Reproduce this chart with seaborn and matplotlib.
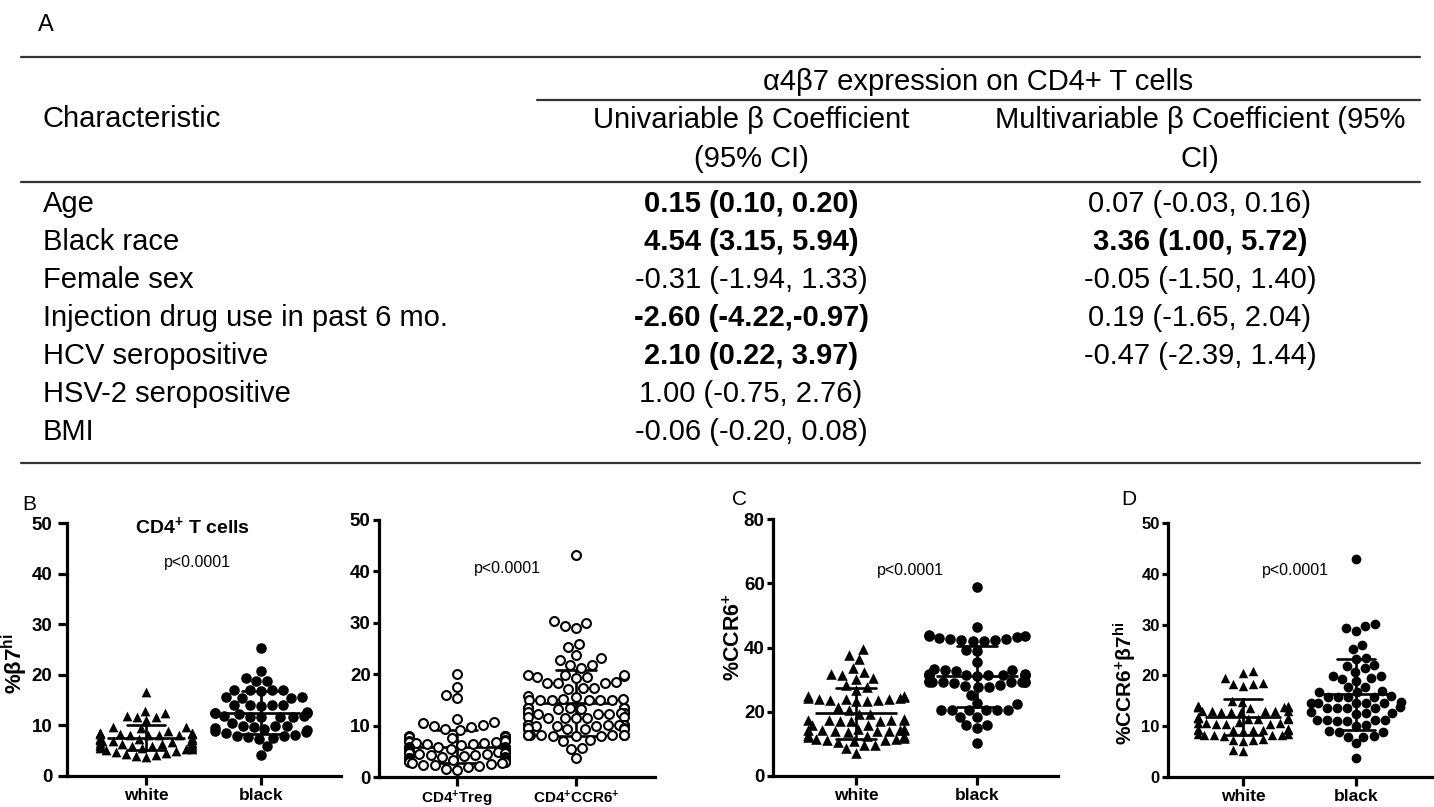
import warnings
warnings.filterwarnings("ignore")
import numpy as np
import pandas as pd
import matplotlib
matplotlib.use("Agg")
import matplotlib.pyplot as plt
from matplotlib.lines import Line2D
import seaborn as sns

# ---------------- Panel A: table ----------------
table_title = "α4β7 expression on CD4+ T cells"
col_headers = [["Univariable β Coefficient", "(95% CI)"],
               ["Multivariable β Coefficient (95%", "CI)"]]
characteristics = ["Age", "Black race", "Female sex", "Injection drug use in past 6 mo.",
                   "HCV seropositive", "HSV-2 seropositive", "BMI"]
univariable = ["0.15 (0.10, 0.20)", "4.54 (3.15, 5.94)", "-0.31 (-1.94, 1.33)",
               "-2.60 (-4.22,-0.97)", "2.10 (0.22, 3.97)", "1.00 (-0.75, 2.76)",
               "-0.06 (-0.20, 0.08)"]
univariable_bold = [True, True, False, True, True, False, False]
multivariable = ["0.07 (-0.03, 0.16)", "3.36 (1.00, 5.72)", "-0.05 (-1.50, 1.40)",
                 "0.19 (-1.65, 2.04)", "-0.47 (-2.39, 1.44)", "", ""]
multivariable_bold = [False, True, False, False, False, False, False]

# ---------------- Panel B-D: dot plots ----------------
race_groups = ["white", "black"]
race_labels = ["white", "black"]
subset_groups = ["Treg", "CCR6"]
subset_labels = ["CD4$^{+}$Treg", "CD4$^{+}$CCR6$^{+}$"]

b7_white = [16.6, 12.9, 12.4, 11.8, 11.6, 11.6, 11.0, 9.7, 9.7, 9.4, 8.8,
            8.5, 8.5, 8.4, 8.4, 8.4, 8.3, 8.3, 8.3, 8.2, 8.2, 8.2, 8.1,
            7.6, 7.5, 7.4, 7.3, 7.2, 7.1, 7.0, 7.0, 6.9, 6.8,
            6.6, 6.5, 6.4, 6.3, 6.2, 6.1, 6.0, 6.0, 5.9, 5.8,
            5.6, 5.5, 5.4, 5.3, 5.2, 5.0, 4.8, 4.6, 4.4, 4.2, 4.0, 3.8]
b7_black = [25.3, 20.7, 19.4, 18.8, 18.7, 16.9, 16.9, 16.8, 16.9, 17.0,
            15.7, 15.6, 15.5, 15.4, 14.0, 14.1, 13.9, 14.0, 14.0,
            12.6, 12.4, 12.4, 12.3, 12.5, 11.7, 11.7, 11.8, 11.6, 11.7, 11.8,
            10.4, 9.9, 9.8, 9.8, 9.6, 9.4, 9.2, 9.0, 8.8, 8.6, 8.4, 8.2,
            8.0, 7.9, 7.7, 7.6, 7.4, 5.9, 4.1]

b7_treg = [20.0, 17.5, 15.9, 15.3, 11.2, 10.7, 10.6, 10.2, 9.9, 9.7, 9.3, 9.1,
           7.9, 7.9, 7.8, 7.8, 7.8, 7.7, 7.8, 7.9, 7.7, 7.8, 7.6, 7.8,
           7.2, 7.1, 7.0, 6.9, 6.8, 6.7, 6.6, 6.5, 6.4, 6.3,
           5.9, 5.8, 5.8, 5.7, 5.7, 5.6, 5.6, 5.6, 5.5, 5.5, 5.5, 5.4, 5.4, 5.4,
           5.3, 5.3, 5.3, 5.2, 5.2, 5.2, 5.1, 5.1, 5.0, 5.0, 4.9, 4.9, 4.8, 4.8,
           4.7, 4.7, 4.6, 4.5, 4.4, 4.3, 4.2, 4.1,
           3.9, 3.8, 3.7, 3.6, 3.6, 3.5, 3.5, 3.5, 3.4, 3.4, 3.4, 3.3, 3.3,
           3.2, 3.2, 3.1, 3.0, 3.0, 2.9, 2.8,
           2.7, 2.5, 2.4, 2.3, 2.2, 2.0, 1.6, 1.3]
b7_ccr6 = [43.2, 30.4, 29.9, 29.4, 29.0, 25.9, 25.3, 23.7, 23.1, 22.8, 21.8, 21.7, 21.2,
           19.9, 19.8, 19.7, 19.8, 19.4, 19.3, 19.5, 18.3, 18.4, 18.2, 18.3, 17.3, 17.2, 17.4,
           15.8, 15.6, 15.1, 15.0, 15.0, 14.9, 15.0, 15.1, 14.9, 15.0,
           13.5, 13.4, 13.4, 13.3, 13.5, 13.4, 13.3, 13.4, 13.5, 13.2,
           12.5, 12.4, 12.4, 12.3, 12.5, 12.4, 12.3, 12.4, 12.2, 12.6,
           11.6, 11.5, 11.4, 11.5, 11.6, 11.4,
           10.2, 10.1, 10.1, 10.0, 10.2, 10.1, 10.0, 10.1, 10.2, 10.0,
           9.5, 9.4, 9.4, 9.3, 9.5, 9.4,
           8.2, 8.1, 8.1, 8.0, 8.2, 8.1, 8.0, 8.1, 8.2, 8.0,
           7.2, 7.1, 5.6, 5.5, 3.6]

ccr6_white = [39.4, 37.7, 36.3, 33.5, 32.5, 31.7, 31.4, 30.4, 30.2, 28.3, 27.7, 26.8,
              25.0, 24.8, 24.5, 24.4, 24.3, 24.1, 24.0, 23.9, 23.8, 23.6, 23.5, 23.4,
              21.5, 20.5, 19.3, 19.2,
              17.6, 17.5, 17.4, 17.4, 17.3, 17.2, 17.1, 17.0, 15.9, 15.8,
              14.6, 14.5, 14.4, 14.3, 14.3, 14.2, 14.1, 14.0, 13.9, 13.8,
              12.8, 12.6, 12.3, 12.0, 11.8, 11.6, 11.4, 11.2, 11.1, 11.0,
              10.7, 9.6, 9.5, 8.6, 7.1]
ccr6_black = [58.9, 46.5, 43.9, 43.6, 43.2, 42.8, 42.4, 42.1, 42.0, 42.3, 42.7, 43.1, 43.5,
              39.2, 39.0, 35.6, 33.2, 33.0, 32.8, 33.1,
              31.6, 31.5, 31.4, 31.3, 31.2, 31.5, 31.4, 31.6, 31.3, 31.4,
              29.5, 29.4, 29.3, 29.2, 29.3, 29.4, 29.1, 29.2, 29.3,
              28.2, 28.0, 27.6, 27.8, 25.2,
              22.6, 22.4, 20.7, 20.6, 20.5, 20.4, 20.5, 20.6,
              18.5, 18.3, 15.9, 15.8, 14.8, 10.2]

ccr6b7_white = [20.9, 20.4, 19.4, 18.6, 18.4, 18.3, 18.0, 14.9, 14.8,
                14.0, 13.9, 13.8, 13.8, 13.7, 13.9, 13.8, 13.6, 13.9, 13.7,
                13.0, 12.9, 12.8, 12.9, 13.0, 12.8, 12.7, 12.9,
                11.8, 11.7, 11.6, 11.5, 11.6, 11.4, 11.7, 11.5,
                10.8, 10.7, 10.6, 10.5, 10.6, 10.4, 10.5,
                9.5, 9.4, 9.3, 9.2, 9.3, 9.4, 9.1, 9.2, 9.3,
                8.5, 8.4, 8.3, 8.2, 8.3, 8.1, 8.2,
                7.4, 7.3, 7.2, 7.1, 5.4, 5.1]
ccr6b7_black = [43.0, 30.1, 29.7, 29.3, 28.7, 26.0, 25.1, 23.4, 23.3, 22.0, 21.9, 21.4,
                20.7, 19.9, 19.8, 19.4, 19.3, 18.8, 17.8, 17.7,
                16.8, 16.7, 16.9, 15.8, 15.7, 15.9, 15.8, 15.7,
                14.6, 14.5, 14.7, 14.6, 14.5, 14.6,
                13.6, 13.5, 13.7, 13.6, 13.5, 12.6, 12.5, 12.7, 12.6,
                11.2, 11.1, 11.3, 11.2, 11.1, 11.2, 10.2, 10.1,
                8.9, 8.8, 9.0, 7.9, 7.8, 8.0, 6.6, 3.7]

# ---------------- style ----------------
sns.set_theme(style="ticks")
plt.rcParams["font.family"] = ["Liberation Sans", "DejaVu Sans"]
plt.rcParams["mathtext.fontset"] = "custom"
plt.rcParams["mathtext.rm"] = "Liberation Sans:bold"
plt.rcParams["mathtext.it"] = "Liberation Sans:bold"
plt.rcParams["mathtext.bf"] = "Liberation Sans:bold"
for key in ["text.color", "axes.labelcolor", "xtick.color", "ytick.color", "axes.edgecolor"]:
    plt.rcParams[key] = "black"

W, H = 1434, 807
fig = plt.figure(figsize=(W / 100, H / 100), dpi=100)
fig.patch.set_facecolor("white")


def fx(x):
    return x / W


def fy(y):
    return 1 - y / H


def hrule(x0, x1, y, lw=1.6):
    fig.add_artist(Line2D([fx(x0), fx(x1)], [fy(y), fy(y)], color="#333333", lw=lw))


# ---------------- table ----------------
TFS = 21
fig.text(fx(38), fy(25), "A", fontsize=17, ha="left", va="center")
hrule(21, 1420, 57)
hrule(537, 1420, 100)
hrule(21, 1420, 182)
hrule(21, 1420, 463)
fig.text(fx(978), fy(90), table_title, fontsize=TFS, ha="center", va="baseline")
fig.text(fx(43), fy(127), "Characteristic", fontsize=TFS, ha="left", va="baseline")
col_x = [751, 1200]
for cx, lines in zip(col_x, col_headers):
    fig.text(fx(cx), fy(128), lines[0], fontsize=TFS, ha="center", va="baseline")
    fig.text(fx(cx), fy(167), lines[1], fontsize=TFS, ha="center", va="baseline")
for i, name in enumerate(characteristics):
    yb = 212 + 38 * i
    fig.text(fx(43), fy(yb), name, fontsize=TFS, ha="left", va="baseline")
    fig.text(fx(col_x[0]), fy(yb), univariable[i], fontsize=TFS, ha="center", va="baseline",
             fontweight="bold" if univariable_bold[i] else "normal")
    if multivariable[i]:
        fig.text(fx(col_x[1]), fy(yb), multivariable[i], fontsize=TFS, ha="center", va="baseline",
                 fontweight="bold" if multivariable_bold[i] else "normal")


# ---------------- dot plots ----------------
def dot_panel(rect, cats, series, markers, sizes, open_pts, ylim, yticks, xlim, mean_len,
              tick_fs, xlabels, xtick_fs, ylen, ypad):
    l, t, r, b = rect
    ax = fig.add_axes([fx(l), fy(b), (r - l) / W, (b - t) / H])
    df = pd.DataFrame({
        "group": np.repeat(cats, [len(s) for s in series]),
        "value": np.concatenate([np.asarray(s, float) for s in series]),
    })
    ax.set_ylim(*ylim)
    for c, m, s in zip(cats, markers, sizes):
        sub = df[df["group"] == c]
        if open_pts:
            sns.swarmplot(data=sub, x="group", y="value", order=cats, marker=m, size=s,
                          color="white", edgecolor="black", linewidth=1.5, ax=ax)
        else:
            sns.swarmplot(data=sub, x="group", y="value", order=cats, marker=m, size=s,
                          color="black", linewidth=0, ax=ax)
    sns.pointplot(data=df, x="group", y="value", order=cats, errorbar="sd", capsize=0.33,
                  color="black", linestyle="none", marker="_", markersize=mean_len,
                  markeredgewidth=1.9, err_kws={"linewidth": 1.9}, ax=ax)
    ax.set_xlim(*xlim)
    ax.set_ylim(*ylim)
    ax.set_xticks([0, 1])
    ax.set_xticklabels(xlabels, fontweight="bold", fontsize=xtick_fs)
    ax.set_yticks(yticks)
    ax.set_yticklabels([str(v) for v in yticks], fontweight="bold", fontsize=tick_fs)
    ax.set_xlabel("")
    ax.set_ylabel("")
    for side in ["top", "right"]:
        ax.spines[side].set_visible(False)
    for side in ["left", "bottom"]:
        ax.spines[side].set_linewidth(2.3)
        ax.spines[side].set_color("black")
    ax.tick_params(axis="x", width=2.3, length=6.5, pad=2, colors="black")
    ax.tick_params(axis="y", width=2.3, length=ylen, pad=ypad, colors="black")
    ax.set_facecolor("none")
    return ax


ax1 = dot_panel((67, 523, 341, 776), race_groups, [b7_white, b7_black], ["^", "o"], [7.0, 7.6],
                False, (0, 50), [0, 10, 20, 30, 40, 50], (-0.687, 1.696), 56, 13.5,
                race_labels, 12.5, 6.5, 4)
ax1.set_ylabel("%β7$^{hi}$", fontsize=16, fontweight="bold", va="center")
ax1.yaxis.set_label_coords(-0.19, 0.445)

ax2 = dot_panel((379, 520, 655, 777), subset_groups, [b7_treg, b7_ccr6], ["o", "o"], [6.4, 6.4],
                True, (0, 50), [0, 10, 20, 30, 40, 50], (-0.655, 1.664), 58, 13.5,
                subset_labels, 11, 4.5, 1.5)

ax3 = dot_panel((773, 519, 1058, 776), race_groups, [ccr6_white, ccr6_black], ["^", "o"], [7.6, 7.6],
                False, (0, 80), [0, 20, 40, 60, 80], (-0.686, 1.669), 59, 13.5,
                race_labels, 12.5, 4.5, 1.5)
ax3.set_ylabel("%CCR6$^{+}$", fontsize=15.5, fontweight="bold", va="center")
ax3.yaxis.set_label_coords(-0.137, 0.54)

ax4 = dot_panel((1168, 523, 1432, 777), race_groups, [ccr6b7_white, ccr6b7_black], ["^", "o"], [6.8, 7.0],
                False, (0, 50), [0, 10, 20, 30, 40, 50], (-0.664, 1.673), 55, 12,
                race_labels, 12.5, 4.5, 1.5)
ax4.set_ylabel("%CCR6$^{+}$β7$^{hi}$", fontsize=15, fontweight="bold", va="center")
ax4.yaxis.set_label_coords(-0.163, 0.37)

# panel letters and annotations
fig.text(fx(22), fy(504), "B", fontsize=15, ha="left", va="center")
fig.text(fx(732), fy(500), "C", fontsize=15, ha="left", va="center")
fig.text(fx(1121), fy(500), "D", fontsize=15, ha="left", va="center")
fig.text(fx(193), fy(526), "CD4$^{+}$ T cells", fontsize=14, fontweight="bold", ha="center", va="center")
for px, py in [(197, 563), (507, 568), (910, 571), (1295, 570)]:
    fig.text(fx(px), fy(py), "p<0.0001", fontsize=11.5, ha="center", va="center")

fig.savefig("out.png", dpi=100, facecolor="white")
